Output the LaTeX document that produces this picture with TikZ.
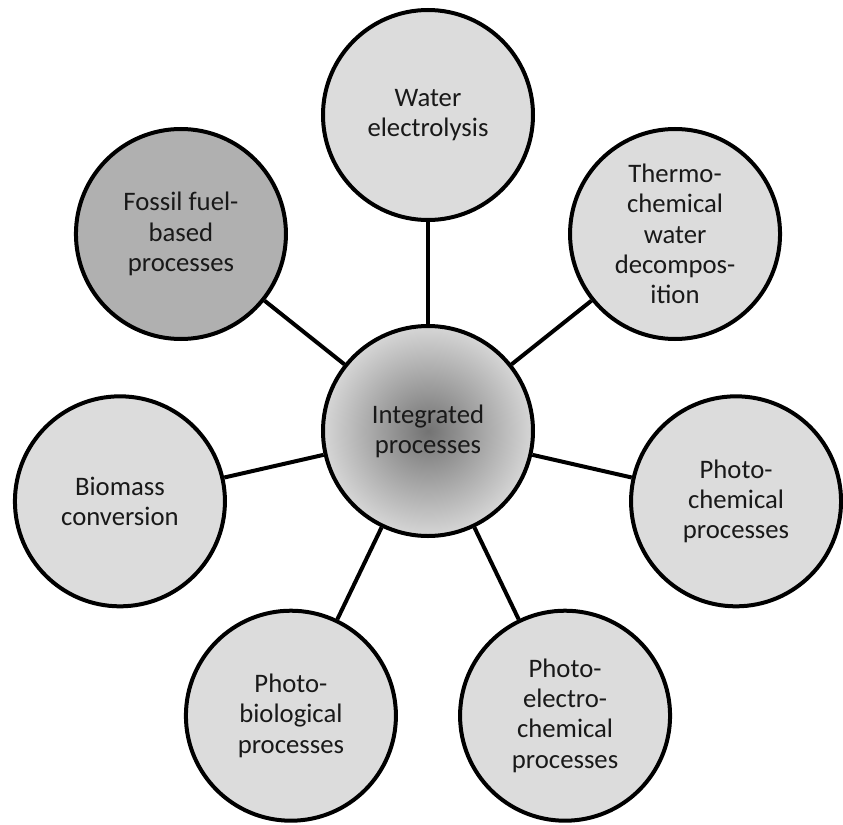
\documentclass[tikz,border=0pt]{standalone}
\usepackage{fontspec}
\setmainfont{Carlito}
\usepackage{xcolor}
\usetikzlibrary{shapes,positioning,calc}
\definecolor{procgray}{HTML}{DCDCDC}
\definecolor{fossilgray}{HTML}{B0B0B0}

\begin{document}
\begin{tikzpicture}[
    proc/.style={draw, circle, line width=0.1cm, fill=procgray, minimum size=5.25cm,
        align=center, text=black!90, font=\fontsize{19}{21.5}\selectfont},
    hub/.style={proc, shading=radial, inner color=black!55, outer color=black!16},
    spoke/.style={line width=0.1cm}]
    \useasboundingbox (-10.7,-9.825) rectangle (10.375,10.775);

    % Central node
    \node[hub] (IP) at (0,0) {Integrated\\processes};

    % Outer nodes
    \node[proc] (WE) at (90:7.9) {Water\\electrolysis};
    \node[proc] (TC) at (38.57:7.9) {Thermo-\\chemical\\water\\decompos-\\ition};
    \node[proc] (PC) at (-12.86:7.9) {Photo-\\chemical\\processes};
    \node[proc] (PEC) at (-64.29:7.9) {Photo-\\electro-\\chemical\\processes};
    \node[proc] (PB) at (-115.71:7.9) {Photo-\\biological\\processes};
    \node[proc] (BC) at (-167.14:7.9) {Biomass\\conversion};
    \node[proc, fill=fossilgray] (FF) at (141.43:7.9) {Fossil fuel-\\based\\processes};

    % Spokes
    \draw[spoke] (IP) -- (WE);
    \draw[spoke] (IP) -- (TC);
    \draw[spoke] (IP) -- (PC);
    \draw[spoke] (IP) -- (PEC);
    \draw[spoke] (IP) -- (PB);
    \draw[spoke] (IP) -- (BC);
    \draw[spoke] (IP) -- (FF);
\end{tikzpicture}
\end{document}
